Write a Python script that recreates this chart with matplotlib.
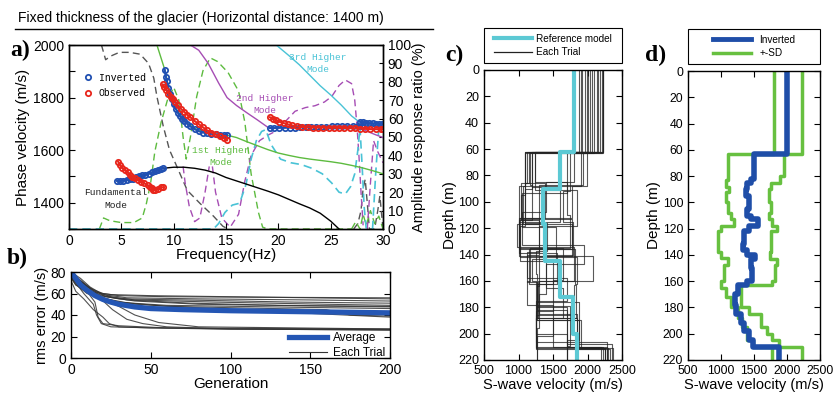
import numpy as np
import matplotlib
matplotlib.use("Agg")
import matplotlib.pyplot as plt
from matplotlib.lines import Line2D
from matplotlib.patches import Rectangle

plt.rcParams['font.family'] = ['Liberation Sans', 'DejaVu Sans']
plt.rcParams['axes.linewidth'] = 1.0

# ---------------- panel a: dispersion curves ----------------
# observed / inverted phase velocities (Hz, m/s)
inv_fund_f = [4.6, 4.9, 5.2, 5.5, 5.8, 6.1, 6.4, 6.7, 7.0, 7.3, 7.6, 7.9, 8.2, 8.5, 8.8, 9.0]
inv_fund_v = [1483, 1483, 1484, 1486, 1489, 1492, 1496, 1500, 1504, 1507, 1511, 1515, 1519, 1524, 1528, 1531]
inv_1st_f = [9.15, 9.25, 9.35, 9.5, 9.65, 9.8, 10.0, 10.2, 10.4, 10.6, 10.8, 11.0, 11.3, 11.6,
             12.0, 12.4, 12.8, 13.2, 13.6, 14.0, 14.4, 14.8, 15.1]
inv_1st_v = [1905, 1880, 1862, 1835, 1812, 1795, 1775, 1757, 1742, 1730, 1720, 1712, 1700, 1690,
             1680, 1672, 1667, 1664, 1662, 1660, 1659, 1658, 1658]
inv_2nd_f = [19.2, 19.6, 20.1, 20.6, 21.1, 21.6, 22.1, 22.6, 23.1, 23.6, 24.1, 24.6, 25.1, 25.6,
             26.1, 26.6, 27.1, 27.6, 28.0]
inv_2nd_v = [1684, 1684, 1685, 1685, 1686, 1686, 1687, 1687, 1688, 1688, 1689, 1689, 1690, 1690,
             1690, 1691, 1691, 1692, 1692]
inv_3rd_f = [27.8, 28.1, 28.4, 28.7, 29.0, 29.3, 29.6, 29.9]
inv_3rd_v = [1708, 1706, 1704, 1702, 1702, 1701, 1700, 1700]

obs_fund_f = [4.7, 4.9, 5.1, 5.35, 5.6, 5.8, 6.0, 6.3, 6.6, 6.9, 7.2, 7.5, 7.7, 7.9, 8.0, 8.2, 8.5, 8.8, 9.0]
obs_fund_v = [1556, 1542, 1532, 1525, 1515, 1507, 1499, 1493, 1487, 1480, 1474, 1467, 1461, 1457,
              1450, 1448, 1452, 1460, 1458]
obs_1st_f = [8.95, 9.1, 9.3, 9.5, 9.7, 9.9, 10.1, 10.4, 10.7, 11.0, 11.3, 11.6, 12.0, 12.4, 12.8,
             13.2, 13.6, 14.0, 14.4, 14.8, 15.1]
obs_1st_v = [1850, 1840, 1828, 1815, 1803, 1793, 1785, 1770, 1757, 1746, 1735, 1725, 1711, 1699,
             1687, 1675, 1667, 1660, 1652, 1645, 1638]
obs_2nd_f = [19.2, 19.5, 19.8, 20.1, 20.5, 20.9, 21.3, 21.8, 22.3, 22.8, 23.3, 23.8, 24.3, 24.8,
             25.3, 25.8, 26.3, 26.8, 27.3, 27.8, 28.3, 28.8, 29.3, 29.8, 30.0]
obs_2nd_v = [1725, 1720, 1714, 1708, 1703, 1698, 1694, 1690, 1688, 1687, 1686, 1686, 1686, 1685,
             1685, 1685, 1684, 1684, 1683, 1682, 1681, 1680, 1680, 1680, 1680]

# theoretical modes
fund_f = [4.6, 6.0, 7.3, 8.2, 9.0, 10.0, 11.0, 12.0, 13.0, 14.0, 15.0, 16.0, 17.0, 18.0, 19.0,
          20.0, 21.0, 22.0, 23.0, 24.0, 25.0, 25.8]
fund_v = [1483, 1487, 1505, 1518, 1531, 1535, 1535, 1531, 1524, 1513, 1496, 1483, 1470, 1457, 1444,
          1430, 1413, 1396, 1380, 1360, 1330, 1300]
h1_f = [8.4, 8.8, 9.2, 9.6, 10.0, 10.5, 11.0, 11.5, 12.0, 13.0, 14.0, 15.0, 16.0, 17.0, 18.0, 19.0,
        20.0, 21.0, 22.0, 23.0, 24.0, 25.0, 26.0, 27.0, 28.0, 29.0, 30.0]
h1_v = [2000, 1950, 1900, 1820, 1775, 1740, 1714, 1697, 1683, 1668, 1661, 1658, 1648, 1632, 1617,
        1602, 1589, 1580, 1572, 1566, 1561, 1556, 1550, 1542, 1533, 1522, 1510]
h2_f = [11.6, 12.4, 13.3, 14.3, 15.1, 16.0, 17.0, 18.0, 19.1, 20.0, 22.0, 24.0, 26.0, 27.5, 28.3,
        29.2, 30.0]
h2_v = [2000, 1980, 1930, 1855, 1800, 1770, 1742, 1715, 1684, 1685, 1687, 1689, 1690, 1689, 1675,
        1660, 1648]
h3_f = [19.8, 21.0, 22.0, 23.0, 24.0, 25.0, 26.0, 27.0, 27.7, 28.3, 29.0, 30.0]
h3_v = [2000, 1960, 1925, 1885, 1845, 1810, 1772, 1730, 1708, 1703, 1701, 1700]

# amplitude response ratio (%)
amp_fund = [([3.1, 3.5, 4.0, 4.8, 5.8, 6.8, 7.6, 8.1, 8.4, 9.0, 9.6, 10.3, 11.3, 12.5, 13.8, 14.7, 15.2],
             [100, 92, 94, 96, 96, 95, 90, 82, 72, 56, 43, 34, 21, 14, 7, 1.5, 0]),
            ([27.2, 27.6, 27.9, 28.1, 28.3, 28.5, 28.7, 29.2, 29.5, 29.7, 29.9, 30.0],
             [0, 3, 10, 22, 27, 14, 0, 0, 10, 18, 6, 0])]
amp_1st = [([2.9, 3.3, 3.9, 5.0, 6.2, 7.0, 7.4, 7.8, 8.2, 8.8, 9.4, 10.0, 10.5, 10.9, 11.2, 11.6,
             12.2, 12.8, 13.5, 14.2, 15.2, 16.2, 16.8, 17.4, 18.1, 18.5, 19.0, 27.0],
            [0, 6, 4.5, 3.5, 3.5, 6, 14, 25, 42, 58, 70, 77, 70, 50, 38, 50, 72, 86, 93, 91, 85, 75,
             58, 30, 9, 1, 0, 0]),
           ([27.0, 27.4, 27.8, 28.1, 28.4, 28.8, 29.2, 29.6, 30.0],
            [0, 4, 0, 8, 2, 10, 3, 7, 0])]
amp_2nd = [([10.9, 11.1, 11.5, 12.0, 12.5, 13.0, 13.4],
            [34, 25, 12, 4, 6, 20, 34]),
           ([13.7, 14.0, 14.6, 15.4, 16.2, 16.8, 17.4, 18.2, 19.0, 19.7, 20.6, 21.6, 22.6, 23.5, 24.4,
             25.1, 25.8, 26.4, 27.0, 27.3, 27.5, 27.7, 27.9, 28.1],
            [34, 20, 6, 1, 8, 26, 40, 48, 51, 53, 58, 64, 66, 67, 69, 72, 78, 81, 79, 70, 57, 40, 20, 2]),
           ([28.5, 28.8, 29.1, 29.5, 30.0],
            [0, 25, 48, 42, 36])]
amp_3rd = [([0, 13.8, 14.3, 14.9, 15.6, 16.3, 16.9, 17.4, 17.9, 18.4, 18.8, 19.3, 20.2, 21.2, 22.2,
             23.2, 24.2, 25.1, 25.8, 26.4, 26.9, 27.3, 27.6, 27.8, 28.0, 28.2, 28.4],
            [0, 0, 3, 9, 13, 14, 24, 38, 48, 53, 54, 46, 38, 36, 35, 33, 30, 25, 20, 19, 23, 30, 43,
             55, 35, 12, 0]),
           ([29.0, 29.3, 29.6, 30.0],
            [0, 30, 55, 58])]

# ---------------- panel b: convergence ----------------
trials_gen = [
    ([0, 5, 10, 20, 30, 60, 120, 200], [80, 72, 66, 60, 58, 57, 56.5, 56]),
    ([0, 4, 8, 15, 25, 50, 100, 200], [78, 70, 65, 61, 59, 58, 57, 55]),
    ([0, 6, 12, 20, 35, 80, 150, 200], [80, 74, 66, 59, 56, 55, 54, 53]),
    ([0, 3, 10, 18, 30, 70, 140, 200], [76, 68, 62, 58, 55, 54, 52, 51]),
    ([0, 5, 15, 25, 40, 90, 160, 200], [80, 72, 62, 57, 54, 52, 50, 49]),
    ([0, 4, 9, 20, 35, 75, 130, 200], [75, 70, 64, 58, 54, 51, 49, 48]),
    ([0, 7, 14, 22, 40, 80, 170, 200], [79, 71, 63, 57, 53, 50, 48, 47.5]),
    ([0, 3, 8, 16, 28, 60, 150, 200], [74, 68, 63, 57, 52, 49, 47, 46]),
    ([0, 5, 12, 20, 30, 60, 160, 175, 200], [80, 73, 64, 56, 52, 48, 45, 40, 39]),
    ([0, 6, 12, 22, 40, 100, 200], [78, 70, 62, 55, 50, 45, 38]),
    ([0, 5, 10, 15, 17, 20, 30, 60, 100, 200], [80, 70, 62, 52, 38, 32, 30, 28, 27, 26.5]),
    ([0, 4, 8, 14, 16, 19, 25, 50, 90, 200], [77, 68, 60, 50, 40, 32, 29, 28, 27, 26]),
    ([0, 6, 12, 18, 26, 35, 45, 60, 100, 200], [80, 72, 64, 56, 45, 36, 32, 29, 27, 26]),
    ([0, 5, 10, 20, 30, 40, 55, 80, 200], [75, 66, 60, 55, 48, 40, 33, 29, 27]),
    ([0, 3, 8, 14, 20, 24, 30, 50, 200], [72, 62, 55, 45, 38, 32, 29, 28, 27]),
]
avg_gen = [0, 3, 6, 10, 15, 20, 25, 30, 40, 50, 70, 100, 150, 200]
avg_rms = [80, 74, 68, 63, 58, 54.5, 52, 50, 47.5, 46, 45, 44, 43, 42]

# ---------------- panel c: trial models ----------------
ref_bounds = [0, 62, 90, 117, 145, 172, 200, 220]
ref_vs = [1800, 1600, 1350, 1390, 1600, 1790, 1850]
trial_models = [
    ([0, 62, 88, 116, 141, 160, 188, 211, 220], [2230, 1100, 1000, 1000, 2080, 1280, 1260, 2370]),
    ([0, 63, 86, 113, 136, 162, 180, 210, 220], [2210, 1150, 1030, 1780, 1150, 1270, 1700, 2280]),
    ([0, 62, 90, 118, 145, 162, 190, 212, 220], [2140, 1200, 1100, 1020, 1500, 1270, 1880, 2250]),
    ([0, 62, 85, 110, 135, 160, 178, 202, 220], [2040, 1240, 1700, 1750, 1160, 1120, 1500, 1270]),
    ([0, 63, 92, 115, 140, 165, 188, 210, 220], [1990, 1750, 1640, 1790, 1400, 1650, 1260, 2230]),
    ([0, 62, 87, 117, 134, 160, 185, 211, 220], [1920, 1940, 1300, 980, 1800, 1300, 1850, 2300]),
    ([0, 62, 95, 114, 138, 158, 175, 200, 220], [1870, 1100, 1040, 1300, 1120, 1700, 1260, 1700]),
    ([0, 63, 88, 112, 142, 162, 188, 210, 220], [2100, 1990, 1780, 1020, 1850, 1840, 1500, 2200]),
    ([0, 62, 86, 116, 137, 155, 176, 205, 220], [2180, 1130, 1090, 1420, 1250, 1270, 1880, 1700]),
    ([0, 62, 89, 115, 139, 162, 182, 208, 220], [2000, 1200, 1600, 1000, 1560, 1270, 1700, 2360]),
    ([0, 63, 85, 108, 133, 147, 170, 196, 220], [2230, 1800, 1400, 1050, 1950, 1400, 1300, 1270]),
    ([0, 62, 93, 119, 143, 160, 190, 211, 220], [1900, 1700, 1050, 1550, 1200, 1260, 1900, 2250]),
    ([0, 62, 87, 114, 136, 163, 186, 212, 220], [2060, 1160, 1200, 1000, 1820, 1800, 1260, 2330]),
    ([0, 62, 91, 118, 140, 161, 179, 209, 220], [2150, 1240, 1850, 1300, 1120, 1270, 1750, 1700]),
    ([0, 63, 86, 112, 135, 159, 183, 206, 220], [1960, 1100, 1380, 1000, 1650, 1500, 1260, 2280]),
    ([0, 62, 88, 117, 141, 164, 188, 211, 220], [2220, 1900, 1060, 1780, 1300, 1270, 1850, 2250]),
]

# ---------------- panel d: inverted model +- SD ----------------
inv_bounds = [0, 63, 82, 85, 90, 95, 105, 110, 113, 118, 122, 132, 136, 140, 143, 150, 160, 163, 170,
              178, 185, 192, 198, 205, 210, 220]
inv_vs = [2000, 1500, 1450, 1400, 1380, 1420, 1400, 1450, 1560, 1420, 1350, 1330, 1400, 1520, 1460,
          1470, 1400, 1250, 1210, 1230, 1300, 1350, 1420, 1480, 1880]
sd_lo_bounds = [0, 63, 83, 88, 92, 100, 108, 113, 118, 122, 138, 142, 148, 160, 165, 172, 180, 188,
                195, 205, 210, 220]
sd_lo_vs = [1800, 1100, 1080, 1120, 1070, 1100, 1150, 1200, 1000, 960, 1000, 1100, 1040, 1000, 1080,
            1150, 1250, 1320, 1400, 1480, 1780]
sd_hi_bounds = [0, 63, 80, 85, 90, 100, 108, 113, 118, 122, 138, 143, 148, 160, 163, 180, 185, 195,
                200, 205, 210, 220]
sd_hi_vs = [2220, 1950, 1900, 1760, 1720, 1760, 1720, 1780, 1850, 1760, 1740, 1850, 1820, 1780, 1300,
            1420, 1600, 1700, 1780, 1880, 2220]

BLUE = '#2150b2'
RED = '#e8261c'
GREEN = '#5dbb3f'
PURPLE = '#a64db4'
CYAN = '#49c3d6'
MONO = ['Liberation Mono', 'DejaVu Sans Mono']


def layer_steps(bounds, vels):
    d = np.repeat(bounds, 2)[1:-1]
    v = np.repeat(vels, 2)
    return v, d


def box_ticks(ax, size=10):
    ax.tick_params(direction='in', top=True, right=True, length=4, labelsize=size)


def boxed_legend(ax, handles, labels, textpad):
    # framed legend box spanning the axes width, entries centred inside
    ax.add_patch(Rectangle((0, 1.025), 1, 0.12, transform=ax.transAxes, fill=False,
                           edgecolor='k', lw=0.8, clip_on=False))
    ax.legend(handles, labels, loc='center', bbox_to_anchor=(0.5, 1.085), frameon=False,
              fontsize=7.2, handlelength=3.8, handletextpad=textpad, labelspacing=0.35,
              borderaxespad=0, borderpad=0)


fig = plt.figure(figsize=(8.35, 4.01), dpi=100)

fig.text(0.022, 1 - 18 / 401, 'Fixed thickness of the glacier (Horizontal distance: 1400 m)',
         fontsize=10, va='center', ha='left')
fig.add_artist(Line2D([0.018, 0.518], [1 - 29 / 401, 1 - 29 / 401], transform=fig.transFigure,
                      color='k', lw=1))

lab_font = dict(family=['Liberation Serif', 'DejaVu Serif'], fontsize=17, fontweight='bold')
fig.text(0.012, 1 - 50 / 401, 'a)', va='center', **lab_font)
fig.text(0.008, 1 - 258 / 401, 'b)', va='center', **lab_font)
fig.text(0.533, 1 - 55 / 401, 'c)', va='center', **lab_font)
fig.text(0.772, 1 - 55 / 401, 'd)', va='center', **lab_font)

# ---- a ----
ax = fig.add_axes([69 / 835, 1 - 229 / 401, 314 / 835, 184 / 401])
ax2 = ax.twinx()
ax.set_zorder(ax2.get_zorder() + 1)
ax.patch.set_visible(False)

dash = (0, (5, 3))
for f, r in amp_fund:
    ax2.plot(f, r, color='#555555', lw=1, ls=dash)
for f, r in amp_1st:
    ax2.plot(f, r, color=GREEN, lw=1, ls=dash)
for f, r in amp_2nd:
    ax2.plot(f, r, color=PURPLE, lw=1, ls=dash)
for f, r in amp_3rd:
    ax2.plot(f, r, color=CYAN, lw=1.2, ls=dash)
ax2.set_ylim(0, 100)
ax2.set_yticks(np.arange(0, 101, 10))
ax2.tick_params(direction='in', length=3, labelsize=10)
ax2.set_ylabel('Amplitude response ratio (%)', fontsize=10.5, labelpad=1)

ax.plot(fund_f, fund_v, color='k', lw=1)
ax.plot(h1_f, h1_v, color=GREEN, lw=1)
ax.plot(h2_f, h2_v, color=PURPLE, lw=1)
ax.plot(h3_f, h3_v, color=CYAN, lw=1)

mk = dict(marker='o', ms=3.8, mfc='none', mew=1.3, lw=1.5)
for f, v in [(inv_fund_f, inv_fund_v), (inv_1st_f, inv_1st_v), (inv_2nd_f, inv_2nd_v),
             (inv_3rd_f, inv_3rd_v)]:
    ax.plot(f, v, color=BLUE, **mk)
for f, v in [(obs_fund_f, obs_fund_v), (obs_1st_f, obs_1st_v), (obs_2nd_f, obs_2nd_v)]:
    ax.plot(f, v, color=RED, **mk)

mono = dict(family=MONO, fontsize=6.8, ha='center', va='center', linespacing=1.45)
ax.text(4.5, 1414, 'Fundamental\nMode', color='#222222', **mono)
ax.text(14.5, 1575, '1st Higher\nMode', color=GREEN, **mono)
ax.text(18.7, 1775, '2nd Higher\nMode', color=PURPLE, **mono)
ax.text(23.8, 1930, '3rd Higher\nMode', color=CYAN, **mono)

leg_h = [Line2D([], [], color=BLUE, marker='o', ms=3.8, mfc='none', mew=1.3, ls='none'),
         Line2D([], [], color=RED, marker='o', ms=3.8, mfc='none', mew=1.3, ls='none')]
ax.legend(leg_h, ['Inverted', 'Observed'], loc='upper left', bbox_to_anchor=(0.03, 0.87),
          frameon=False, prop=dict(family=MONO, size=7), handlelength=1.2,
          handletextpad=0.5, labelspacing=0.55, borderaxespad=0)

ax.set_xlim(0, 30)
ax.set_ylim(1300, 2000)
ax.set_xticks(np.arange(0, 31, 5))
ax.set_yticks(np.arange(1300, 2001, 100))
ax.set_yticklabels(['' if t % 200 else str(t) for t in range(1300, 2001, 100)])
ax.tick_params(direction='in', length=4, labelsize=10)
ax.set_xlabel('Frequency(Hz)', fontsize=11, labelpad=0)
ax.set_ylabel('Phase velocity (m/s)', fontsize=11, labelpad=2)

# ---- b ----
bx = fig.add_axes([71 / 835, 1 - 358 / 401, 319 / 835, 86 / 401])
for g, e in trials_gen:
    bx.plot(g, e, color='#333333', lw=0.8, alpha=0.85)
bx.plot(avg_gen, avg_rms, color='#2456b4', lw=3.8)
bx.set_xlim(0, 200)
bx.set_ylim(0, 80)
bx.set_xticks([0, 50, 100, 150, 200])
bx.set_yticks([0, 20, 40, 60, 80])
box_ticks(bx)
bx.set_xlabel('Generation', fontsize=11, labelpad=0)
bx.set_ylabel('rms error (m/s)', fontsize=10.5, labelpad=1)
bx.legend([Line2D([], [], color='#2456b4', lw=3.8), Line2D([], [], color='#333333', lw=0.8)],
          ['Average', 'Each Trial'], loc='lower right', bbox_to_anchor=(1.0, -0.07),
          frameon=False, fontsize=8.5, handlelength=3.2, handletextpad=0.5, labelspacing=0.25,
          borderaxespad=0)

# ---- c ----
cx = fig.add_axes([484 / 835, 1 - 360 / 401, 138 / 835, 290 / 401])
for b, v in trial_models:
    xs, ys = layer_steps(b, v)
    cx.plot(xs, ys, color='#222222', lw=0.8, alpha=0.75)
xs, ys = layer_steps(ref_bounds, ref_vs)
cx.plot(xs, ys, color='#5cc9d4', lw=3)
cx.set_xlim(500, 2500)
cx.set_ylim(220, 0)
cx.set_xticks([500, 1000, 1500, 2000, 2500])
cx.set_yticks(np.arange(0, 221, 20))
box_ticks(cx, 9)
cx.set_xlabel('S-wave velocity (m/s)', fontsize=10.5, labelpad=1)
cx.set_ylabel('Depth (m)', fontsize=11, labelpad=1)
boxed_legend(cx, [Line2D([], [], color='#5cc9d4', lw=3), Line2D([], [], color='#222222', lw=0.9)],
             ['Reference model', 'Each Trial'], 0.4)

# ---- d ----
dx = fig.add_axes([688 / 835, 1 - 360 / 401, 132 / 835, 289 / 401])
xs, ys = layer_steps(sd_lo_bounds, sd_lo_vs)
dx.plot(xs, ys, color='#67c040', lw=2.5)
xs, ys = layer_steps(sd_hi_bounds, sd_hi_vs)
dx.plot(xs, ys, color='#67c040', lw=2.5)
xs, ys = layer_steps(inv_bounds, inv_vs)
dx.plot(xs, ys, color='#1f4ea8', lw=4)
dx.set_xlim(500, 2500)
dx.set_ylim(220, 0)
dx.set_xticks([500, 1000, 1500, 2000, 2500])
dx.set_yticks(np.arange(0, 221, 20))
box_ticks(dx, 8.8)
dx.set_xlabel('S-wave velocity (m/s)', fontsize=10.5, labelpad=1)
dx.set_ylabel('Depth (m)', fontsize=11, labelpad=1)
boxed_legend(dx, [Line2D([], [], color='#1f4ea8', lw=3.5), Line2D([], [], color='#67c040', lw=2.5)],
             ['Inverted', '+-SD'], 0.9)

fig.savefig('out.png', dpi=100)
